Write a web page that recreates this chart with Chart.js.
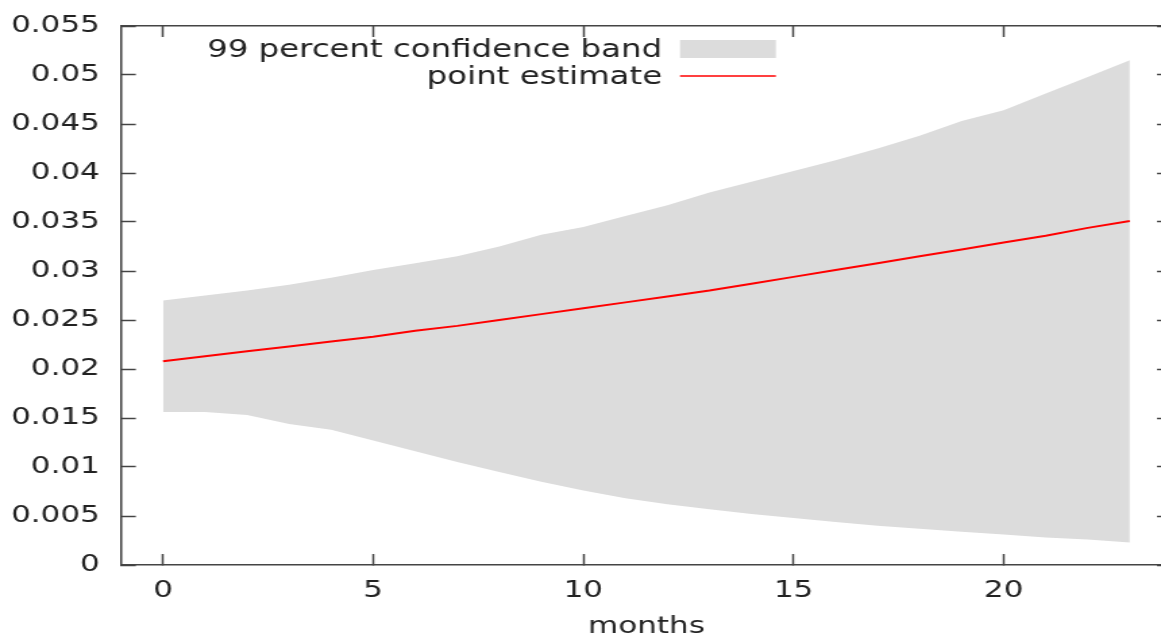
<!DOCTYPE html>
<html>
<head>
<meta charset="utf-8">
<script src="https://cdn.jsdelivr.net/npm/chart.js@4.4.1/dist/chart.umd.min.js"></script>
<style>
html, body { margin: 0; padding: 0; background: #fff; overflow: hidden; width: 1161px; height: 636px; }
#wrap { width: 874px; height: 636px; transform: scaleX(1.35); transform-origin: 0 0; }
</style>
</head>
<body>
<div id="wrap"><canvas id="chart" width="874" height="636"></canvas></div>
<script>
var months = [0, 1, 2, 3, 4, 5, 6, 7, 8, 9, 10, 11, 12, 13, 14, 15, 16, 17, 18, 19, 20, 21, 22, 23];
var estimate = [0.0208, 0.0213, 0.0218, 0.0223, 0.0228, 0.0233, 0.0239, 0.0244, 0.0250, 0.0256, 0.0262, 0.0268,
                0.0274, 0.0280, 0.0287, 0.0294, 0.0301, 0.0308, 0.0315, 0.0322, 0.0329, 0.0336, 0.0344, 0.0351];
var bandUpper = [0.0270, 0.0275, 0.0280, 0.0286, 0.0293, 0.0301, 0.0308, 0.0315, 0.0325, 0.0337, 0.0345, 0.0356,
                 0.0367, 0.0380, 0.0391, 0.0402, 0.0413, 0.0425, 0.0438, 0.0453, 0.0464, 0.0481, 0.0498, 0.0515];
var bandLower = [0.0156, 0.0156, 0.0153, 0.0144, 0.0138, 0.0127, 0.0116, 0.0105, 0.0095, 0.0085, 0.0076, 0.0068,
                 0.0062, 0.0057, 0.0052, 0.0048, 0.0044, 0.0040, 0.0037, 0.0034, 0.0031, 0.0028, 0.0026, 0.0023];
var xTicks = [0, 5, 10, 15, 20];
var yTicks = [0, 0.005, 0.01, 0.015, 0.02, 0.025, 0.03, 0.035, 0.04, 0.045, 0.05, 0.055];
var yTickLabels = ["0", "0.005", "0.01", "0.015", "0.02", "0.025", "0.03", "0.035", "0.04", "0.045", "0.05", "0.055"];
var bandLabel = "99 percent confidence band";
var lineLabel = "point estimate";

var FONT = "'DejaVu Sans', Verdana, sans-serif";
var AXIS = "#444";
var BAND = "#dcdcdc";
var RED = "#ff0000";

function toPoints(ys) {
    var pts = [];
    for (var i = 0; i < months.length; i++) {
        pts.push({ x: months[i], y: ys[i] });
    }
    return pts;
}

function setTicks(values) {
    return function(scale) {
        scale.ticks = values.map(function(v) { return { value: v }; });
    };
}

// gnuplot style key: text right aligned, sample on the right
var keyPlugin = {
    id: "key",
    afterDraw: function(chart) {
        var ctx = chart.ctx;
        ctx.save();
        ctx.font = "24px " + FONT;
        ctx.fillStyle = "#222";
        ctx.textAlign = "right";
        ctx.textBaseline = "alphabetic";
        ctx.fillText(bandLabel, 490.5, 57);
        ctx.fillText(lineLabel, 490.5, 84);
        ctx.fillStyle = BAND;
        ctx.fillRect(503.7, 40, 71, 18);
        ctx.strokeStyle = RED;
        ctx.lineWidth = 1.5;
        ctx.beginPath();
        ctx.moveTo(503.7, 76);
        ctx.lineTo(574.7, 76);
        ctx.stroke();
        ctx.restore();
    }
};

// ticks point inward like gnuplot
function axisGrid() {
    return { drawOnChartArea: false, drawTicks: true, tickLength: -11, tickWidth: 1.5, tickColor: AXIS };
}
function axisBorder() {
    return { display: true, color: AXIS, width: 1.5 };
}

var ctx = document.getElementById("chart").getContext("2d");
var chart = new Chart(ctx, {
    type: "line",
    data: {
        datasets: [
            { label: lineLabel, data: toPoints(estimate), borderColor: RED, borderWidth: 2, pointRadius: 0, fill: false, order: 0 },
            { label: bandLabel, data: toPoints(bandUpper), borderWidth: 0, borderColor: BAND, backgroundColor: BAND, pointRadius: 0, fill: "+1", order: 1 },
            { label: "lower", data: toPoints(bandLower), borderWidth: 0, borderColor: BAND, pointRadius: 0, fill: false, order: 2 }
        ]
    },
    options: {
        responsive: false,
        animation: false,
        events: [],
        layout: { padding: 0 },
        plugins: { legend: { display: false }, tooltip: { enabled: false } },
        scales: {
            x: {
                type: "linear", position: "bottom", min: -1, max: 24,
                afterBuildTicks: setTicks(xTicks),
                afterFit: function(s) { s.height = 71; s.paddingLeft = 0; s.paddingRight = 0; },
                grid: axisGrid(), border: axisBorder(),
                ticks: { color: "#222", padding: 23, font: { family: FONT, size: 23 } },
                title: { display: true, text: "months", color: "#222", padding: 0, font: { family: FONT, size: 23, lineHeight: 0.8 } }
            },
            x2: {
                type: "linear", position: "top", min: -1, max: 24,
                afterBuildTicks: setTicks(xTicks),
                afterFit: function(s) { s.height = 26; s.paddingLeft = 0; s.paddingRight = 0; },
                grid: axisGrid(), border: axisBorder(),
                // tick marks only show when ticks are on, so use empty labels
                ticks: { display: true, color: "rgba(0,0,0,0)", callback: function() { return ""; } }
            },
            y: {
                type: "linear", position: "left", min: 0, max: 0.055,
                afterBuildTicks: setTicks(yTicks),
                // label padding would otherwise push the plot down
                afterFit: function(s) { s.width = 89.6; s.paddingTop = 0; s.paddingBottom = 0; },
                grid: axisGrid(), border: axisBorder(),
                ticks: {
                    color: "#222", padding: 26.6, font: { family: FONT, size: 23 },
                    callback: function(v, i) { return yTickLabels[i]; }
                }
            },
            y2: {
                type: "linear", position: "right", min: 0, max: 0.055,
                afterBuildTicks: setTicks(yTicks),
                afterFit: function(s) { s.width = 6; },
                grid: axisGrid(), border: axisBorder(),
                ticks: { display: false }
            }
        }
    },
    plugins: [keyPlugin]
});
</script>
</body>
</html>
